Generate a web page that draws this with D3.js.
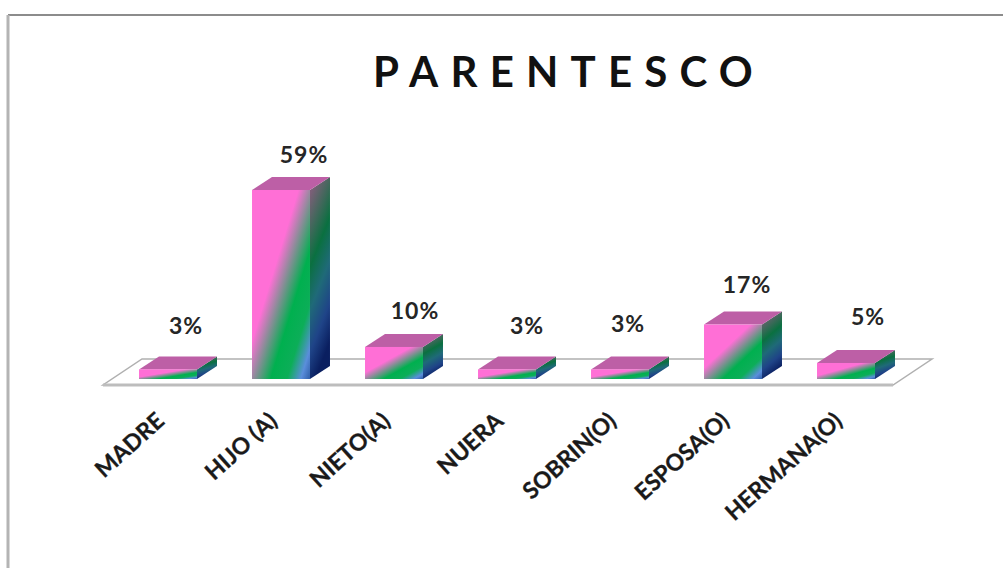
<!DOCTYPE html>
<html>
<head>
<meta charset="utf-8">
<script src="https://cdn.jsdelivr.net/npm/d3@7/dist/d3.min.js"></script>
<style>
  html, body { margin: 0; padding: 0; background: #fff; }
  svg { display: block; }
  text { font-family: Lato, "Open Sans", sans-serif; font-weight: 700; }
</style>
</head>
<body>
<svg id="chart" width="1003" height="568"></svg>
<script>
// Kinship distribution, in percent
const categories = ["MADRE", "HIJO (A)", "NIETO(A)", "NUERA", "SOBRIN(O)", "ESPOSA(O)", "HERMANA(O)"];
const percentages = [3, 59, 10, 3, 3, 17, 5];
const chartTitle = "PARENTESCO";

const svg = d3.select("#chart");
const depth = { x: 20, y: -13 };
const baseY = 379;

const x = d3.scaleBand().domain(categories).range([111.5, 902.5])
  .paddingInner(0.487).paddingOuter(0.2435);
const y = d3.scaleLinear().domain([0, 59]).range([baseY, 190]);

// Gradients for the front and side faces of each column
const defs = svg.append("defs");
function gradient(id, x2, y2, stops) {
  const g = defs.append("linearGradient").attr("id", id)
    .attr("x1", 0).attr("y1", 0).attr("x2", x2).attr("y2", y2);
  stops.forEach(([o, c]) => g.append("stop").attr("offset", o).attr("stop-color", c));
}
gradient("front", 1, 1, [[0.40, "#ff6fd6"], [0.66, "#00b04f"], [0.80, "#0cae58"], [0.92, "#5a8edb"], [1, "#2f5ea8"]]);
gradient("side", 0.25, 1, [[0.08, "#7c5f78"], [0.42, "#0a7040"], [0.62, "#1f6a78"], [0.82, "#1f4488"], [1, "#0a1f60"]]);

// Chart frame: only the top and left edges are visible
svg.append("line").attr("x1", 8).attr("x2", 1003).attr("y1", 15).attr("y2", 15)
  .attr("stroke", "#8c8c8c").attr("stroke-width", 2);
svg.append("line").attr("x1", 8).attr("x2", 8).attr("y1", 15).attr("y2", 568)
  .attr("stroke", "#b4b4b4").attr("stroke-width", 3);

// Title, spaced out letter by letter
svg.append("text").attr("x", 569).attr("y", 87).attr("text-anchor", "middle")
  .attr("font-size", 42).attr("letter-spacing", 12.2).attr("fill", "#111").text(chartTitle);

// Floor of the 3D plot
const fl = x.range()[0] - 8.5, fr = x.range()[1] - 9.5, fy = baseY + 6;
svg.append("path")
  .attr("d", `M${fl},${fy}L${fr},${fy}L${fr + 39},${fy - 26}L${fl + 39},${fy - 26}Z`)
  .attr("fill", "#fff").attr("stroke", "#b0b0b0").attr("stroke-width", 1.5);
svg.append("line").attr("x1", fl).attr("x2", fr).attr("y1", fy).attr("y2", fy)
  .attr("stroke", "#bdbdbd").attr("stroke-width", 3);

// Columns
const cols = svg.append("g").selectAll("g").data(categories.map((c, i) => ({ c, v: percentages[i] })))
  .join("g");

cols.append("path").attr("fill", "url(#side)").attr("d", d => {
  const r = x(d.c) + x.bandwidth(), t = y(d.v);
  return `M${r},${t}L${r + depth.x},${t + depth.y}L${r + depth.x},${baseY + depth.y}L${r},${baseY}Z`;
});
cols.append("path").attr("fill", "#bd5fa6").attr("d", d => {
  const l = x(d.c), r = l + x.bandwidth(), t = y(d.v);
  return `M${l},${t}L${l + depth.x},${t + depth.y}L${r + depth.x},${t + depth.y}L${r},${t}Z`;
});
cols.append("rect").attr("fill", "url(#front)")
  .attr("x", d => x(d.c)).attr("y", d => y(d.v))
  .attr("width", x.bandwidth()).attr("height", d => baseY - y(d.v));

// Value labels sit above each column, with small per-column adjustments
const labelLift = [35, 27, 28, 35, 37, 32, 38];
const labelShift = [18, 23, 21, 20, 8, 14, 22];
cols.append("text").attr("text-anchor", "middle").attr("font-size", 23).attr("letter-spacing", 1)
  .attr("fill", "#262626")
  .attr("x", (d, i) => x(d.c) + x.bandwidth() / 2 + labelShift[i])
  .attr("y", (d, i) => y(d.v) - labelLift[i])
  .text(d => d.v + "%");

// Category axis with slanted labels
const axis = svg.append("g").attr("transform", `translate(-13,${baseY + 32})`)
  .call(d3.axisBottom(x).tickSize(0).tickPadding(0));
axis.select(".domain").remove();
axis.selectAll("text")
  .attr("text-anchor", "end").attr("font-size", 23).attr("fill", "#1a1a1a")
  .attr("stroke", "#1a1a1a").attr("stroke-width", 0.3)
  .attr("font-family", null)
  .attr("dy", "0.7em")
  .attr("transform", "rotate(-42)");
</script>
</body>
</html>
